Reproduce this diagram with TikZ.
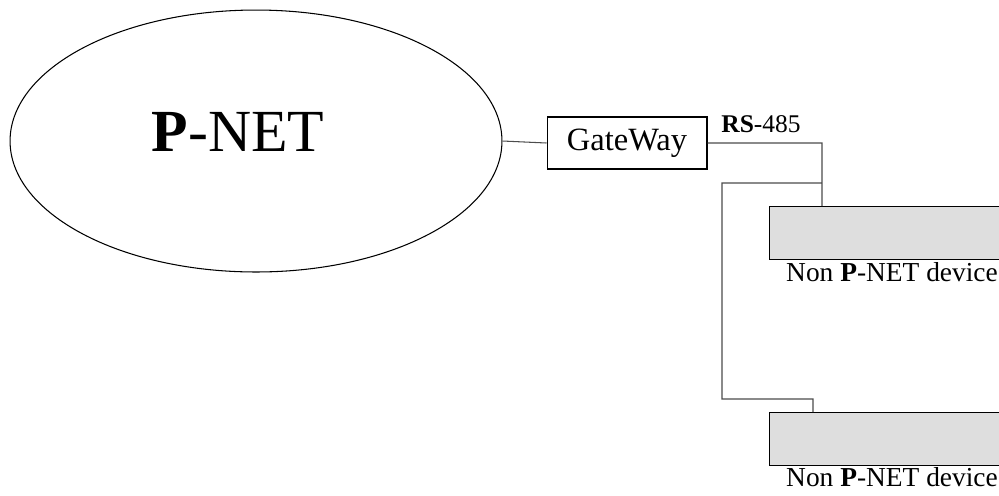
\documentclass[tikz,border=0pt]{standalone}
\usepackage{fontspec}
\setmainfont{Liberation Serif}
\usetikzlibrary{shapes.geometric,positioning}

\tikzset{
    wire/.style={draw=black!70, line width=0.6pt},
    gatebox/.style={draw, line width=0.6pt, rectangle, minimum width=3.2cm, minimum height=1.04cm, inner sep=0pt},
    devbox/.style={draw, line width=0.6pt, fill=black!13, rectangle, anchor=north west, minimum width=5cm, minimum height=1.06cm, inner sep=0pt},
    devtext/.style={anchor=base, inner sep=0pt, font=\fontsize{15.6}{18}\selectfont}
}

\begin{document}
\begin{tikzpicture}[x=0.02cm, y=-0.02cm]
    \useasboundingbox (0,0) rectangle (999,495);
    \clip (0,0) rectangle (999,495);

    \node[ellipse, draw, line width=0.6pt, minimum width=9.84cm, minimum height=5.24cm, inner sep=0pt] at (256, 141)(pnet){};
    \node at (238, 132)(pnetlabel){\fontsize{34}{40}\selectfont\textbf{P}-NET};
    \node[gatebox] at (627, 143)(gw){\fontsize{18.5}{22}\selectfont GateWay};
    \node[anchor=base west, inner sep=0pt] at (721, 132)(rs){\fontsize{14.5}{17}\selectfont\textbf{RS}-485};

    \node[devbox] at (769, 206)(dev1){};
    \node[devtext] at (892, 281)(dev1label){Non \textbf{P}-NET device};
    \node[devbox] at (769, 412)(dev2){};
    \node[devtext] at (892, 486)(dev2label){Non \textbf{P}-NET device};

    \coordinate (t1) at (822, 206);
    \coordinate (b1) at (822, 183);
    \coordinate (k2) at (722, 399);
    \coordinate (t2) at (813, 412);

    \path[wire]
        (pnet.east) -- (gw.west)
        (gw.east) -| (t1)
        (b1) -| (k2) -| (t2)
        ;
\end{tikzpicture}
\end{document}
